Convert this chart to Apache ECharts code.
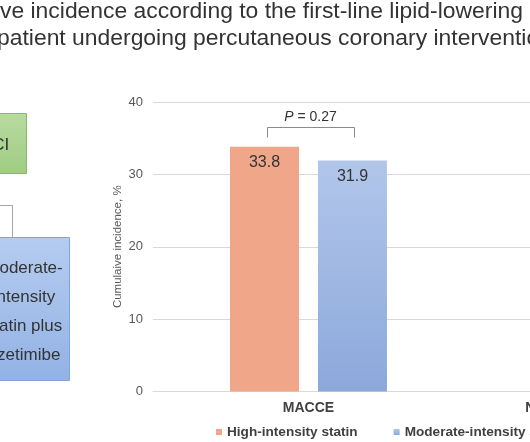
<!DOCTYPE html>
<html><head><meta charset="utf-8">
<script src="https://cdn.jsdelivr.net/npm/echarts@6/dist/echarts.min.js"></script>
<style>html,body{margin:0;padding:0;background:#fff;overflow:hidden}#c{width:530px;height:442px;}</style>
</head><body><div id="c"></div>
<script>
// ---- data ----
const categories = ['MACCE', 'New-onset diabetes mellitus'];
const highIntensity = [33.8, null];
const moderateEzetimibe = [31.9, null];
const seriesNames = ['High-intensity statin', 'Moderate-intensity statin plus ezetimibe'];
const yAxisName = 'Cumulaive incidence, %';
const yMin = 0, yMax = 40, yStep = 10;
const pValueLabel = '{i|P} = 0.27';
const bracketValue = 36.6, bracketTickValue = 35.1, pTextValue = 37.9;
const titleLine1 = 'Cumulative incidence according to the first-line lipid-lowering';
const titleLine1Hidden = 'Cumulati';
const titleLine2 = 'therapy in patient undergoing percutaneous coronary intervention';
const titleLine2Hidden = 'therapy in ';
const flowTopText = 'PCI';
const flowBoxText = ['Moderate-', 'intensity', 'statin plus', 'ezetimibe'];

const FONT = '"Liberation Sans", Arial, Helvetica, sans-serif';
const chart = echarts.init(document.getElementById('c'), null, {renderer: 'canvas'});

function measure(txt, font) {
  const cv = document.createElement('canvas').getContext('2d');
  cv.font = font;
  return cv.measureText(txt).width;
}
const titleSize = 22.9;
const titleFont = titleSize + 'px ' + FONT;
const t1x = 0 - measure(titleLine1Hidden, titleFont);
const t2x = -3 - measure(titleLine2Hidden, titleFont);

const option = {
  animation: false,
  backgroundColor: '#fff',
  textStyle: {fontFamily: FONT},
  grid: {left: 153, width: 622, top: 102, bottom: 50.5, containLabel: false, outerBoundsMode: 'none'},
  legend: {
    left: 216, top: 425, padding: 0, width: 1000,
    icon: 'rect', itemWidth: 6, itemHeight: 6, itemGap: 36,
    textStyle: {fontFamily: FONT, fontSize: 13.6, fontWeight: 'bold', color: '#404040'},
    data: seriesNames
  },
  xAxis: {
    type: 'category', data: categories,
    axisLine: {show: true, lineStyle: {color: '#d9d9d9', width: 1}},
    axisTick: {show: false},
    axisLabel: {interval: 0, margin: 10, hideOverlap: false, fontFamily: FONT, fontSize: 14, fontWeight: 'bold', color: '#404040'}
  },
  yAxis: {
    type: 'value', min: yMin, max: yMax, interval: yStep,
    name: yAxisName, nameLocation: 'middle', nameGap: 29, nameRotate: 90, nameMoveOverlap: false,
    nameTextStyle: {fontFamily: FONT, fontSize: 11.5, color: '#595959'},
    axisLine: {show: false}, axisTick: {show: false},
    axisLabel: {margin: 10, fontFamily: FONT, fontSize: 13, color: '#595959'},
    splitLine: {lineStyle: {color: '#d9d9d9', width: 1}}
  },
  series: [
    {
      name: seriesNames[0], type: 'bar', data: highIntensity,
      barWidth: 69, barGap: '27.5%',
      itemStyle: {color: '#F0A789'},
      label: {show: true, position: 'insideTop', distance: 8, fontFamily: FONT, fontSize: 16, color: '#333'}
    },
    {
      name: seriesNames[1], type: 'bar', data: moderateEzetimibe,
      barWidth: 69, barGap: '27.5%',
      itemStyle: {color: new echarts.graphic.LinearGradient(0, 0, 0, 1, [
        {offset: 0, color: '#B2C6EA'}, {offset: 1, color: '#8CA8DB'}])},
      label: {show: true, position: 'insideTop', distance: 8, fontFamily: FONT, fontSize: 16, color: '#333'}
    }
  ]
};
chart.setOption(option);

const ctr = chart.convertToPixel({xAxisIndex: 0, yAxisIndex: 0}, [0, bracketValue]);
const tickY = chart.convertToPixel({yAxisIndex: 0}, bracketTickValue);
const pY = chart.convertToPixel({yAxisIndex: 0}, pTextValue);
const bx1 = Math.round(ctr[0] - 42) + 0.5, bx2 = Math.round(ctr[0] + 45) + 0.5;
const by = Math.round(ctr[1]) + 0.5;

chart.setOption({
  graphic: [
    {type: 'text', x: t1x, y: 11.5, style: {text: titleLine1, font: titleFont, fill: '#333', verticalAlign: 'middle'}},
    {type: 'text', x: t2x, y: 38.5, style: {text: titleLine2, font: titleFont, fill: '#333', verticalAlign: 'middle'}},
    // flowchart fragment
    {type: 'rect', shape: {x: -37.5, y: 113.5, width: 64, height: 60},
      style: {fill: new echarts.graphic.LinearGradient(0, 0, 0, 1, [{offset: 0, color: '#B8DBA0'}, {offset: 1, color: '#9FCC82'}]), stroke: '#86BB68', lineWidth: 1}},
    {type: 'text', x: -5, y: 145, style: {text: flowTopText, font: '17px ' + FONT, fill: '#333', align: 'center', verticalAlign: 'middle'}},
    {type: 'polyline', shape: {points: [[-40, 205.5], [12.5, 205.5], [12.5, 237]]}, style: {stroke: '#a6a6a6', lineWidth: 1, fill: null}},
    {type: 'rect', shape: {x: -22.5, y: 237.5, width: 92, height: 143},
      style: {fill: new echarts.graphic.LinearGradient(0, 0, 0, 1, [{offset: 0, color: '#B5CCF0'}, {offset: 1, color: '#92B2E4'}]), stroke: '#7FA6DC', lineWidth: 1}},
    ...flowBoxText.map((t, i) => ({type: 'text', x: 24, y: 268 + i * 29,
      style: {text: t, font: '17px ' + FONT, fill: '#333', align: 'center', verticalAlign: 'middle'}})),
    // significance bracket
    {type: 'polyline', shape: {points: [[bx1, Math.round(tickY) + 0.5], [bx1, by], [bx2, by], [bx2, Math.round(tickY) + 0.5]]},
      style: {stroke: '#8c8c8c', lineWidth: 1, fill: null}},
    {type: 'text', x: ctr[0] + 2, y: pY, style: {text: pValueLabel, font: '14px ' + FONT, fill: '#333', align: 'center', verticalAlign: 'middle',
      rich: {i: {fontStyle: 'italic', fontSize: 14, fontFamily: FONT, fill: '#333'}}}}
  ]
});
</script>
</body></html>
